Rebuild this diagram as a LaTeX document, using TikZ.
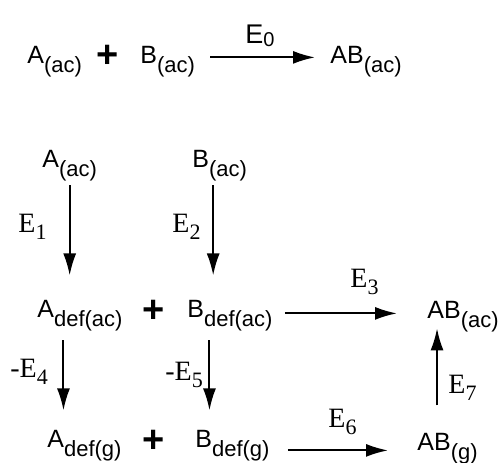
\documentclass[tikz,border=0pt]{standalone}
\usepackage{fontspec}
\setmainfont{Liberation Sans}
\newfontfamily\timesfam{Liberation Serif}
\usepackage{tikz}
\usetikzlibrary{arrows.meta}

% species with lowered state label, energy term with lowered index
\newcommand{\spc}[2]{#1\raisebox{-4.5pt}{\fontsize{11}{12}\selectfont #2}}
\newcommand{\enr}[2]{{\timesfam #1\raisebox{-3.5pt}{\fontsize{11}{12}\selectfont #2}}}

\begin{document}
\begin{tikzpicture}[
    x=0.5pt, y=-0.5pt,
    font=\fontsize{12.5}{15}\selectfont,
    sp/.style={inner sep=0pt, anchor=base west},
    en/.style={inner sep=0pt, anchor=base west, font=\fontsize{14}{16}\selectfont},
    pl/.style={inner sep=0pt, font=\fontsize{19}{21}\selectfont\bfseries},
    rxn/.style={-{Latex[length=11pt, width=6.5pt]}, line width=1pt}
]
\useasboundingbox (0,0) rectangle (502,462);

% overall reaction
\node[sp] (Atop) at (27,63) {\spc{A}{(ac)}};
\node[pl] (p0) at (108,56) {+};
\node[sp] (Btop) at (140,63) {\spc{B}{(ac)}};
\node[sp] (ABtop) at (330,63) {\spc{AB}{(ac)}};
\node[inner sep=0pt, anchor=base west, font=\fontsize{13.5}{16}\selectfont] (e0) at (245,43) {E\raisebox{-1.5pt}{\fontsize{10}{12}\selectfont 0}};
\draw[rxn, shorten <=7.5pt, shorten >=7.5pt] ([yshift=1.9pt]Btop.east) -- ([yshift=1.9pt]Btop.east -| ABtop.west);

% cycle
\node[sp] (Aac) at (42,167) {\spc{A}{(ac)}};
\node[sp] (Bac) at (192,167) {\spc{B}{(ac)}};
\node[sp] (Adefac) at (37,317) {\spc{A}{def(ac)}};
\node[pl] (p1) at (154,311) {+};
\node[sp] (Bdefac) at (187,317) {\spc{B}{def(ac)}};
\node[sp] (ABac) at (427,318) {\spc{AB}{(ac)}};
\node[sp] (Adefg) at (47,447) {\spc{A}{def(g)}};
\node[pl] (p2) at (154,441) {+};
\node[sp] (Bdefg) at (195,447) {\spc{B}{def(g)}};
\node[sp] (ABg) at (417,450) {\spc{AB}{(g)}};

\node[en] (e1) at (18,232) {\enr{E}{1}};
\node[en] (e2) at (172,232) {\enr{E}{2}};
\node[en] (e3) at (350,287) {\enr{E}{3}};
\node[en] (e4) at (10,377) {\enr{-E}{4}};
\node[en] (e5) at (165,380) {\enr{-E}{5}};
\node[en] (e6) at (328,427) {\enr{E}{6}};
\node[en] (e7) at (448,393) {\enr{E}{7}};

\draw[rxn, shorten <=2.2pt, shorten >=12pt] (Aac.south) -- (Aac.south |- Adefac.north);
\draw[rxn, shorten <=2.2pt, shorten >=12pt] ([xshift=-3.25pt]Bac.south) -- ([xshift=-3.25pt]Bac.south |- Bdefac.north);
\draw[rxn, shorten <=6pt, shorten >=15pt] ([yshift=0.9pt]Bdefac.east) -- ([yshift=0.9pt]Bdefac.east -| ABac.west);
\draw[rxn, shorten <=4.7pt, shorten >=9.5pt] ([xshift=-8.25pt]Adefac.south) -- ([xshift=-8.25pt]Adefac.south |- Adefg.north);
\draw[rxn, shorten <=4.7pt, shorten >=9.5pt] ([xshift=-10.25pt]Bdefac.south) -- ([xshift=-10.25pt]Bdefac.south |- Bdefg.north);
\draw[rxn, shorten <=9pt, shorten >=14.5pt] ([yshift=-2.6pt]Bdefg.east) -- ([yshift=-2.6pt]Bdefg.east -| ABg.west);
\draw[rxn, shorten <=13.5pt, shorten >=-1.8pt] ([xshift=-5.25pt]ABg.north) -- ([xshift=-5.25pt]ABg.north |- ABac.south);
\end{tikzpicture}
\end{document}
